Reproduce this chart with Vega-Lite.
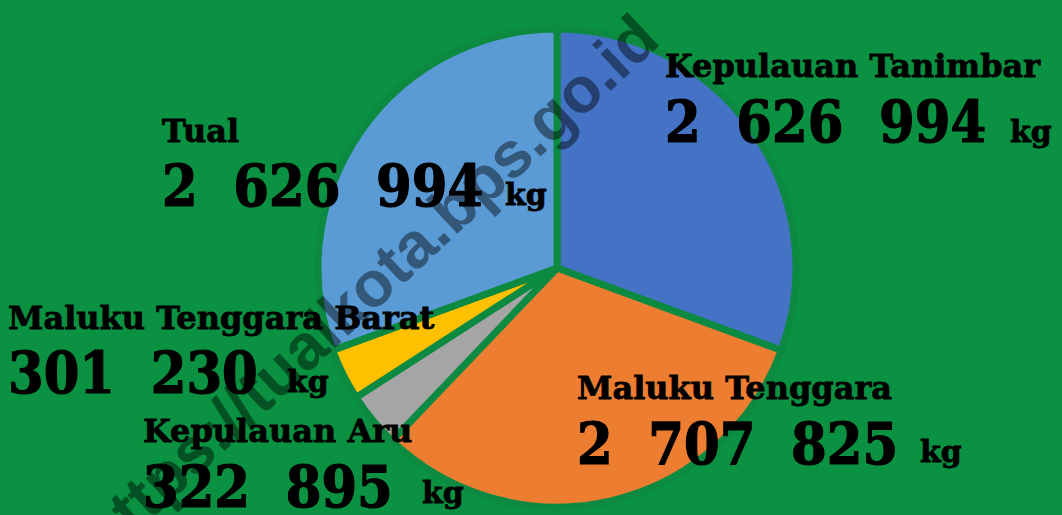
{
  "$schema": "https://vega.github.io/schema/vega-lite/v6.json",
  "width": 1010,
  "height": 494,
  "autosize": "none",
  "padding": {"left": 52, "top": 21, "right": 0, "bottom": 0},
  "background": "#0A9242",
  "config": {
    "view": {"stroke": null},
    "locale": {"number": {"decimal": ",", "thousands": "\u00a0\u00a0", "grouping": [3], "currency": ["", ""]}}
  },
  "data": {
    "values": [
      {"region": "Kepulauan Tanimbar", "kg": 2626994, "order": 1},
      {"region": "Maluku Tenggara", "kg": 2707825, "order": 2},
      {"region": "Kepulauan Aru", "kg": 322895, "order": 3},
      {"region": "Maluku Tenggara Barat", "kg": 301230, "order": 4},
      {"region": "Tual", "kg": 2626994, "order": 5}
    ]
  },
  "layer": [
    {
      "mark": {"type": "arc", "outerRadius": 239, "stroke": "#0C8A41", "strokeWidth": 7},
      "encoding": {
        "theta": {"field": "kg", "type": "quantitative", "stack": true},
        "order": {"field": "order", "type": "quantitative"},
        "color": {
          "field": "region",
          "type": "nominal",
          "scale": {
            "domain": ["Kepulauan Tanimbar", "Maluku Tenggara", "Kepulauan Aru", "Maluku Tenggara Barat", "Tual"],
            "range": ["#4472C4", "#ED7D31", "#A5A5A5", "#FFC000", "#5B9BD5"]
          },
          "legend": null
        }
      }
    },
    {
      "transform": [{"filter": "datum.region === 'Kepulauan Tanimbar'"}],
      "layer": [
        {"mark": {"type": "text", "align": "left", "baseline": "alphabetic", "font": "DejaVu Serif", "fontWeight": "bold", "fontSize": 32, "color": "#000", "stroke": "#000", "strokeWidth": 0.8, "dx": 108, "dy": -191},
         "encoding": {"text": {"field": "region", "type": "nominal"}}},
        {"mark": {"type": "text", "align": "left", "baseline": "alphabetic", "font": "DejaVu Serif Condensed, DejaVu Serif", "fontWeight": "bold", "fontSize": 57, "color": "#000", "stroke": "#000", "strokeWidth": 1.2, "dx": 108, "dy": -126},
         "encoding": {"text": {"field": "kg", "type": "quantitative", "format": ",d"}}},
        {"mark": {"type": "text", "text": "kg", "align": "left", "baseline": "alphabetic", "font": "DejaVu Serif", "fontWeight": "bold", "fontSize": 30, "color": "#000", "stroke": "#000", "strokeWidth": 0.8, "dx": 453, "dy": -126},
         "encoding": {}}
      ]
    },
    {
      "transform": [{"filter": "datum.region === 'Tual'"}],
      "layer": [
        {"mark": {"type": "text", "align": "left", "baseline": "alphabetic", "font": "DejaVu Serif", "fontWeight": "bold", "fontSize": 32, "color": "#000", "stroke": "#000", "strokeWidth": 0.8, "dx": -395, "dy": -126},
         "encoding": {"text": {"field": "region", "type": "nominal"}}},
        {"mark": {"type": "text", "align": "left", "baseline": "alphabetic", "font": "DejaVu Serif Condensed, DejaVu Serif", "fontWeight": "bold", "fontSize": 57, "color": "#000", "stroke": "#000", "strokeWidth": 1.2, "dx": -395, "dy": -62},
         "encoding": {"text": {"field": "kg", "type": "quantitative", "format": ",d"}}},
        {"mark": {"type": "text", "text": "kg", "align": "left", "baseline": "alphabetic", "font": "DejaVu Serif", "fontWeight": "bold", "fontSize": 30, "color": "#000", "stroke": "#000", "strokeWidth": 0.8, "dx": -52, "dy": -63},
         "encoding": {}}
      ]
    },
    {
      "transform": [{"filter": "datum.region === 'Maluku Tenggara Barat'"}],
      "layer": [
        {"mark": {"type": "text", "align": "left", "baseline": "alphabetic", "font": "DejaVu Serif", "fontWeight": "bold", "fontSize": 32, "color": "#000", "stroke": "#000", "strokeWidth": 0.8, "dx": -549, "dy": 61},
         "encoding": {"text": {"field": "region", "type": "nominal"}}},
        {"mark": {"type": "text", "align": "left", "baseline": "alphabetic", "font": "DejaVu Serif Condensed, DejaVu Serif", "fontWeight": "bold", "fontSize": 57, "color": "#000", "stroke": "#000", "strokeWidth": 1.2, "dx": -549, "dy": 125},
         "encoding": {"text": {"field": "kg", "type": "quantitative", "format": ",d"}}},
        {"mark": {"type": "text", "text": "kg", "align": "left", "baseline": "alphabetic", "font": "DejaVu Serif", "fontWeight": "bold", "fontSize": 30, "color": "#000", "stroke": "#000", "strokeWidth": 0.8, "dx": -270, "dy": 124},
         "encoding": {}}
      ]
    },
    {
      "transform": [{"filter": "datum.region === 'Kepulauan Aru'"}],
      "layer": [
        {"mark": {"type": "text", "align": "left", "baseline": "alphabetic", "font": "DejaVu Serif", "fontWeight": "bold", "fontSize": 32, "color": "#000", "stroke": "#000", "strokeWidth": 0.8, "dx": -414, "dy": 174},
         "encoding": {"text": {"field": "region", "type": "nominal"}}},
        {"mark": {"type": "text", "align": "left", "baseline": "alphabetic", "font": "DejaVu Serif Condensed, DejaVu Serif", "fontWeight": "bold", "fontSize": 57, "color": "#000", "stroke": "#000", "strokeWidth": 1.2, "dx": -414, "dy": 239},
         "encoding": {"text": {"field": "kg", "type": "quantitative", "format": ",d"}}},
        {"mark": {"type": "text", "text": "kg", "align": "left", "baseline": "alphabetic", "font": "DejaVu Serif", "fontWeight": "bold", "fontSize": 30, "color": "#000", "stroke": "#000", "strokeWidth": 0.8, "dx": -135, "dy": 235},
         "encoding": {}}
      ]
    },
    {
      "transform": [{"filter": "datum.region === 'Maluku Tenggara'"}],
      "layer": [
        {"mark": {"type": "text", "align": "left", "baseline": "alphabetic", "font": "DejaVu Serif", "fontWeight": "bold", "fontSize": 32, "color": "#000", "stroke": "#000", "strokeWidth": 0.8, "dx": 20, "dy": 131},
         "encoding": {"text": {"field": "region", "type": "nominal"}}},
        {"mark": {"type": "text", "align": "left", "baseline": "alphabetic", "font": "DejaVu Serif Condensed, DejaVu Serif", "fontWeight": "bold", "fontSize": 57, "color": "#000", "stroke": "#000", "strokeWidth": 1.2, "dx": 20, "dy": 196},
         "encoding": {"text": {"field": "kg", "type": "quantitative", "format": ",d"}}},
        {"mark": {"type": "text", "text": "kg", "align": "left", "baseline": "alphabetic", "font": "DejaVu Serif", "fontWeight": "bold", "fontSize": 30, "color": "#000", "stroke": "#000", "strokeWidth": 0.8, "dx": 363, "dy": 194},
         "encoding": {}}
      ]
    },
    {
      "mark": {"type": "text", "text": "https://tualkota.bps.go.id", "align": "center", "baseline": "middle", "font": "Liberation Sans", "fontWeight": "bold", "fontSize": 64, "angle": -43, "color": "#000000", "opacity": 0.1, "dx": -150, "dy": -112},
      "encoding": {}
    }
  ]
}
